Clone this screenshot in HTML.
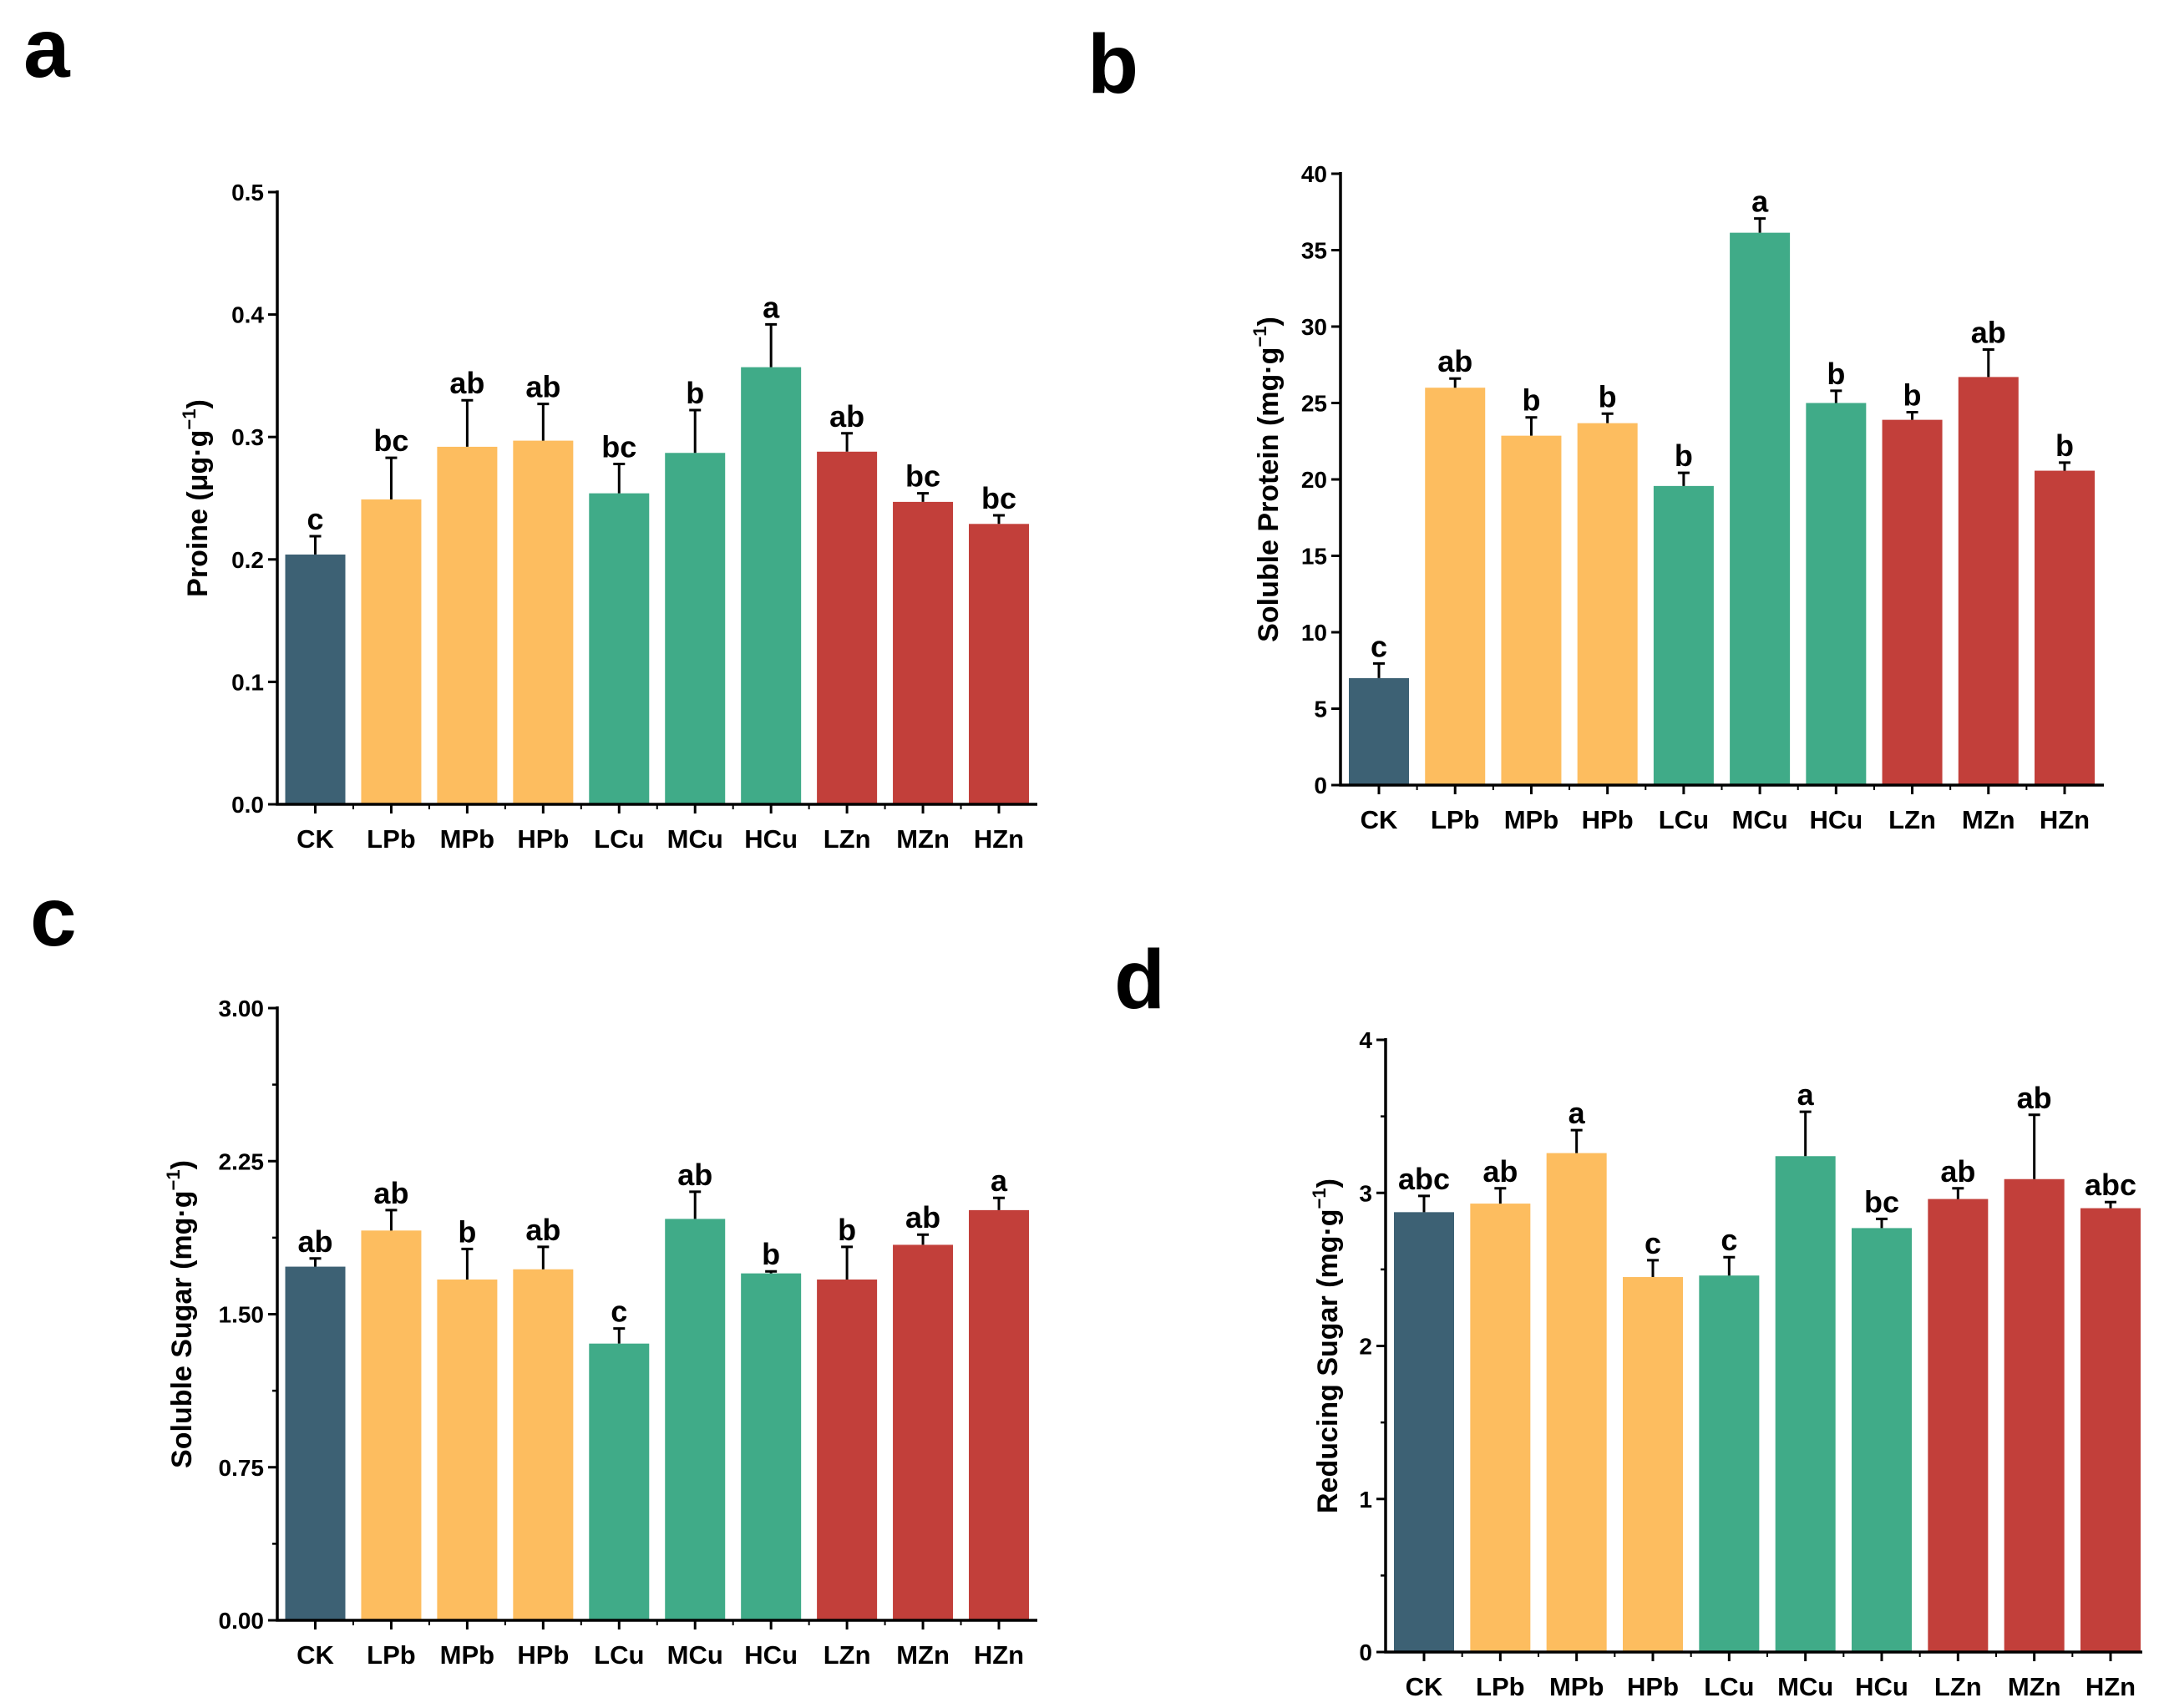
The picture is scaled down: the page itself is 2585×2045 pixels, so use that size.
<!DOCTYPE html>
<html><head><meta charset="utf-8"><style>
html,body{margin:0;padding:0;background:#fff;}
svg{display:block;font-family:"Liberation Sans",Arial,sans-serif;font-weight:bold;}
</style></head><body>
<svg id="fig" width="2585" height="2045" viewBox="0 0 2585 2045" xmlns="http://www.w3.org/2000/svg">
<rect width="2585" height="2045" fill="#fff"/>
<text x="28" y="92" font-size="100">a</text>
<text x="1302" y="111" font-size="100">b</text>
<text x="36" y="1132" font-size="100">c</text>
<text x="1334" y="1207" font-size="100">d</text>
</svg>
<script>
const categories = ["CK","LPb","MPb","HPb","LCu","MCu","HCu","LZn","MZn","HZn"];
const barColors = ["#3d6174","#fdbd5f","#fdbd5f","#fdbd5f","#40ab88","#40ab88","#40ab88","#c23f3a","#c23f3a","#c23f3a"];

const prolineValues = [0.204,0.249,0.292,0.297,0.254,0.287,0.357,0.288,0.247,0.229];
const prolineErrors = [0.015,0.034,0.038,0.030,0.024,0.035,0.035,0.015,0.007,0.007];
const prolineLetters = ["c","bc","ab","ab","bc","b","a","ab","bc","bc"];
const prolineTicks = ["0.0","0.1","0.2","0.3","0.4","0.5"];

const proteinValues = [7.0,26.0,22.86,23.68,19.57,36.14,25.0,23.9,26.7,20.57];
const proteinErrors = [0.96,0.6,1.2,0.62,0.86,0.93,0.8,0.5,1.8,0.53];
const proteinLetters = ["c","ab","b","b","b","a","b","b","ab","b"];
const proteinTicks = ["0","5","10","15","20","25","30","35","40"];

const solSugarValues = [1.733,1.91,1.67,1.72,1.356,1.967,1.70,1.67,1.84,2.01];
const solSugarErrors = [0.04,0.10,0.15,0.11,0.074,0.133,0.01,0.16,0.05,0.06];
const solSugarLetters = ["ab","ab","b","ab","c","ab","b","b","ab","a"];
const solSugarTicks = ["0.00","0.75","1.50","2.25","3.00"];

const redSugarValues = [2.874,2.93,3.26,2.45,2.46,3.24,2.77,2.96,3.09,2.90];
const redSugarErrors = [0.106,0.10,0.15,0.11,0.12,0.29,0.06,0.07,0.42,0.04];
const redSugarLetters = ["abc","ab","a","c","c","a","bc","ab","ab","abc"];
const redSugarTicks = ["0","1","2","3","4"];

const NS = "http://www.w3.org/2000/svg";
const svg = document.getElementById("fig");
function mk(tag, attrs, parent){
  const e = document.createElementNS(NS, tag);
  for (const k in attrs) e.setAttribute(k, attrs[k]);
  (parent||svg).appendChild(e);
  return e;
}

function drawPanel(p){
  const g = mk("g", {});
  
  
  const n = categories.length;
  const step = (p.lastX - p.firstX)/(n-1);
  const xs = i => p.firstX + i*step;
  const ys = v => p.y0 - (v - 0)/(p.ymax) * (p.y0 - p.yTop);
  const bw = 72;
  // bars
  for (let i=0;i<n;i++){
    const v = p.values[i], e = p.errors[i];
    const r = mk("rect", {x: xs(i)-bw/2, y: ys(v), width: bw, height: p.y0-ys(v), fill: barColors[i]}, g);
    
    
    const ey = ys(v+e);
    const el = mk("path", {d:`M${xs(i)} ${ys(v)}V${ey}M${xs(i)-7} ${ey}H${xs(i)+7}`, stroke:"#000", "stroke-width":3, fill:"none"}, g);
    
    
    const t = mk("text", {x: xs(i), y: ey-8, "font-size":36, "text-anchor":"middle"}, g);
    t.textContent = p.letters[i];
    
    
    const xl = mk("text", {x: xs(i), y: p.y0+52, "font-size":31, "text-anchor":"middle"}, g);
    xl.textContent = categories[i];
    
    
    mk("line", {x1:xs(i), x2:xs(i), y1:p.y0, y2:p.y0+11, stroke:"#000","stroke-width":3}, g);
    if (i<n-1) mk("line", {x1:xs(i)+step/2, x2:xs(i)+step/2, y1:p.y0, y2:p.y0+6, stroke:"#000","stroke-width":2}, g);
  }
  // axes
  const ax = mk("path", {d:`M${p.axisX} ${p.yTop-2}V${p.y0}H${p.xEnd}`, stroke:"#000","stroke-width":3.5, fill:"none"}, g);
  
  
  const nt = p.ticks.length;
  for (let k=0;k<nt;k++){
    const v = p.ymax*k/(nt-1), y = ys(v);
    mk("line", {x1:p.axisX-11, x2:p.axisX, y1:y, y2:y, stroke:"#000","stroke-width":3}, g);
    const tl = mk("text", {x:p.axisX-16, y:y+10, "font-size":28, "text-anchor":"end"}, g);
    tl.textContent = p.ticks[k];
    
    
    if (p.minor && k<nt-1){
      const ym = ys(v + p.ymax/(nt-1)/2);
      mk("line", {x1:p.axisX-6, x2:p.axisX, y1:ym, y2:ym, stroke:"#000","stroke-width":2.5}, g);
    }
  }
  const cy = (p.y0+p.yTop)/2;
  const tt = mk("text", {x:p.titleX, y:cy, "font-size":34, "text-anchor":"middle", transform:`rotate(-90 ${p.titleX} ${cy})`}, g);
  
  
  tt.appendChild(document.createTextNode(p.title));
  const sup = mk("tspan", {"font-size":22, dy:-14}, tt);
  sup.textContent = "\u22121";
  const cl = mk("tspan", {"font-size":34, dy:14}, tt);
  cl.textContent = ")";
}

drawPanel({id:"proline", values:prolineValues, errors:prolineErrors, letters:prolineLetters, ticks:prolineTicks, ymax:0.5,
  axisX:332, y0:963, yTop:230, xEnd:1242, firstX:377.5, lastX:1196, titleX:248, title:"Proine (\u03bcg\u00b7g", minor:false});
drawPanel({id:"soluble-protein", values:proteinValues, errors:proteinErrors, letters:proteinLetters, ticks:proteinTicks, ymax:40,
  axisX:1605, y0:940, yTop:208, xEnd:2519, firstX:1651, lastX:2472, titleX:1530, title:"Soluble Protein (mg\u00b7g", minor:false});
drawPanel({id:"soluble-sugar", values:solSugarValues, errors:solSugarErrors, letters:solSugarLetters, ticks:solSugarTicks, ymax:3,
  axisX:332, y0:1940, yTop:1207, xEnd:1242, firstX:377.5, lastX:1196, titleX:229, title:"Soluble Sugar  (mg\u00b7g", minor:true});
drawPanel({id:"reducing-sugar", values:redSugarValues, errors:redSugarErrors, letters:redSugarLetters, ticks:redSugarTicks, ymax:4,
  axisX:1659, y0:1978, yTop:1245, xEnd:2565, firstX:1705, lastX:2527, titleX:1601, title:"Reducing Sugar  (mg\u00b7g", minor:true});
</script>
</body></html>
